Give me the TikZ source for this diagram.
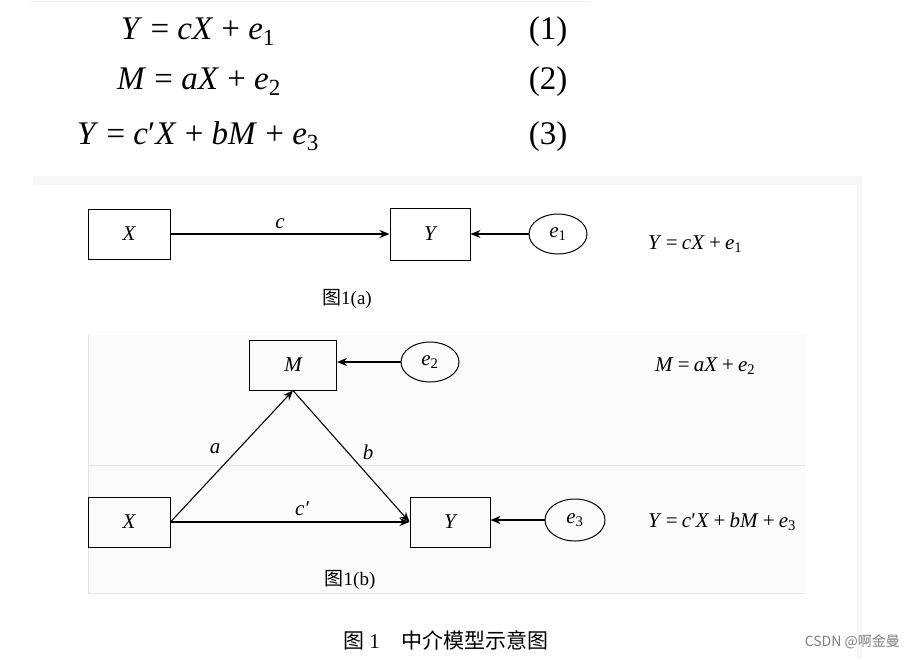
\documentclass[tikz,border=0pt]{standalone}
\usepackage{fontspec}
\setmainfont{Liberation Serif}[ItalicFont={Liberation Serif Italic}, BoldFont={Liberation Serif Bold}]
\newfontfamily\cjk{Noto Sans CJK SC}
\usetikzlibrary{shapes.geometric,arrows.meta}
\definecolor{bandgray}{HTML}{F7F7F7}
\definecolor{panelgray}{HTML}{FBFBFB}
\definecolor{linegray}{HTML}{E4E4E4}
\newcommand{\eqsp}{\hspace{0.25em}}
\newcommand{\smsp}{\hspace{0.2em}}
\tikzset{
  varbox/.style={draw, line width=1pt, minimum width=82pt, minimum height=50pt, inner sep=0pt, font=\fontsize{21}{21}\selectfont\itshape},
  errnode/.style={draw, line width=1pt, ellipse, minimum width=58pt, minimum height=40pt, inner sep=0pt, font=\fontsize{21}{21}\selectfont},
  conn/.style={line width=1.1pt, -{Stealth[length=10pt,width=8pt]}},
  lbl/.style={font=\fontsize{21}{21}\selectfont\itshape},
  bigeq/.style={font=\fontsize{33}{33}\selectfont, anchor=base, inner sep=0pt},
  smalleq/.style={font=\fontsize{21}{21}\selectfont, anchor=base west, inner sep=0pt},
  capt/.style={font=\fontsize{19}{19}\selectfont, anchor=base, inner sep=0pt}
}
\begin{document}
\begin{tikzpicture}[x=1pt,y=-1pt]
\useasboundingbox (0,0) rectangle (915,659);
\fill[white] (0,0) rectangle (915,659);
% faint top rule
\draw[linegray!60, line width=0.8pt] (30,1) -- (590,1);
% panel background
\fill[bandgray] (33,176) rectangle (862,659);
\fill[white] (33,185) rectangle (857,659);
\fill[panelgray] (88,335) rectangle (805,593);
\draw[linegray, line width=1pt] (88,335) -- (88,593) -- (805,593);
\draw[linegray, line width=1pt] (88,465) -- (805,465);

% top equations
\node[bigeq] (eq1) at (198,39) {\textit{Y}\eqsp=\eqsp\textit{cX}\eqsp+\eqsp\textit{e}\textsubscript{1}};
\node[bigeq] (eq2) at (199,89) {\textit{M}\eqsp=\eqsp\textit{aX}\eqsp+\eqsp\textit{e}\textsubscript{2}};
\node[bigeq] (eq3) at (198,144) {\textit{Y}\eqsp=\eqsp\textit{c}′\textit{X}\eqsp+\eqsp\textit{bM}\eqsp+\eqsp\textit{e}\textsubscript{3}};
\node[bigeq] (n1) at (548,39) {(1)};
\node[bigeq] (n2) at (548,89) {(2)};
\node[bigeq] (n3) at (548,144) {(3)};

% figure 1(a)
\node[varbox] (Xa) at (129,234) {X};
\node[varbox, minimum width=80pt, minimum height=52pt] (Ya) at (430,234) {Y};
\node[errnode] (e1) at (558,234) {\textit{e}\textsubscript{1}};
\draw[conn] (Xa.east) -- node[lbl, above=1pt] {c} (Ya.west);
\draw[conn] (e1.west) -- (Ya.east);
\node[smalleq] (eqa) at (648,249) {\textit{Y}\smsp=\smsp\textit{cX}\smsp+\smsp\textit{e}\textsubscript{1}};
\node[capt] (capa) at (347,304) {{\cjk 图}1(a)};

% figure 1(b)
\node[varbox, minimum width=87pt] (M) at (293,365) {M};
\node[errnode] (e2) at (430,362) {\textit{e}\textsubscript{2}};
\node[varbox] (Xb) at (129,522) {X};
\node[varbox, minimum width=80pt] (Yb) at (450,522) {Y};
\node[errnode, minimum width=60pt, minimum height=42pt] (e3) at (575,520) {\textit{e}\textsubscript{3}};
\draw[conn] (e2.west) -- (M.east |- e2.west);
\draw[conn] (e3.west) -- (Yb.east |- e3.west);
\draw[conn] (Xb.east) -- (M.south);
\draw[conn] (M.south) -- (Yb.west);
\draw[conn] (Xb.east) -- (Yb.west);
\node[lbl] (la) at (215,449) {a};
\node[lbl] (lb) at (368,452) {b};
\node[lbl] (lc) at (302,509) {c′};
\node[smalleq] (eqb1) at (655,371) {\textit{M}\smsp=\smsp\textit{aX}\smsp+\smsp\textit{e}\textsubscript{2}};
\node[smalleq] (eqb2) at (648,527) {\textit{Y}\smsp=\smsp\textit{c}′\textit{X}\smsp+\smsp\textit{bM}\smsp+\smsp\textit{e}\textsubscript{3}};
\node[capt] (capb) at (350,585) {{\cjk 图}1(b)};

% caption
\node[capt, font=\fontsize{21}{21}\selectfont] (cap) at (446,648) {{\cjk 图}\ 1\hspace{22pt}{\cjk 中介模型示意图}};
\node[anchor=base east, inner sep=0pt, text=gray, font=\cjk\fontsize{14}{14}\selectfont] (wm) at (900,646) {CSDN @啊金曼};
\end{tikzpicture}
\end{document}
